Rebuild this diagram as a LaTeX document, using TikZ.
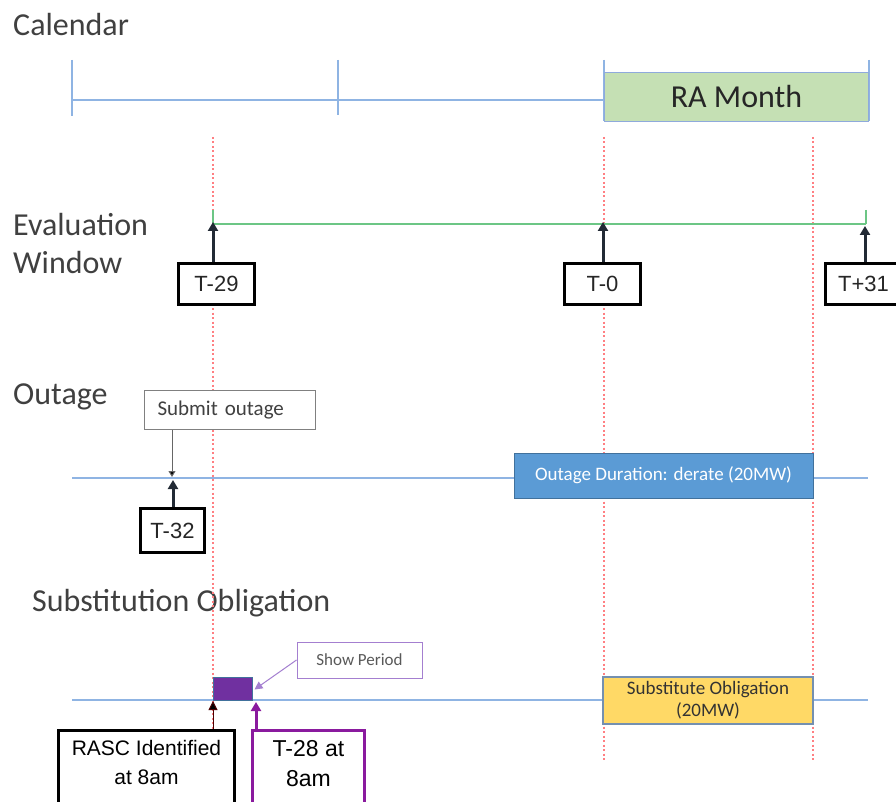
\documentclass[tikz,border=0pt]{standalone}
\usepackage{fontspec}
\setmainfont{Carlito}
\newfontfamily\arialf{Liberation Sans}
\usetikzlibrary{arrows.meta}
\definecolor{lineblue}{HTML}{8FB4E3}
\definecolor{evgreen}{HTML}{6CC685}
\definecolor{reddot}{HTML}{FF7F82}
\definecolor{navy}{HTML}{222A35}
\definecolor{ragreen}{HTML}{C5E0B4}
\definecolor{raborder}{HTML}{8FAADC}
\definecolor{outblue}{HTML}{5B9BD5}
\definecolor{outborder}{HTML}{41719C}
\definecolor{subyellow}{HTML}{FFD966}
\definecolor{subborder}{HTML}{7490B0}
\definecolor{showpurple}{HTML}{7030A0}
\definecolor{lightpurple}{HTML}{A47FD0}
\definecolor{tpurple}{HTML}{8A1A9E}
\definecolor{titlegray}{HTML}{404040}
\tikzset{
  title/.style={anchor=base west, inner sep=0pt, text=titlegray, font=\fontsize{32}{38}\selectfont},
  timeline/.style={draw=lineblue, line width=2pt},
  evline/.style={draw=evgreen, line width=2.2pt},
  guide/.style={draw=reddot, line width=1.4pt, dash pattern=on 2pt off 2.5pt},
  tbox/.style={draw=black, line width=3pt, fill=white, inner sep=0pt,
    font=\arialf\fontsize{22}{26}\selectfont, text=black!85},
  navyarrow/.style={draw=navy, line width=3pt, -{Triangle[width=10pt,length=9pt]}},
  bigbox/.style={draw=black, line width=3pt, fill=white, align=center, inner xsep=0pt, inner ysep=10pt, anchor=north},
}
\begin{document}
\begin{tikzpicture}[x=1pt,y=-1pt]
\useasboundingbox (0,0) rectangle (896,802);
\clip (0,0) rectangle (896,802);
\fill[white] (0,0) rectangle (896,802);

% titles
\node[title] (tcal) at (13,36) {Calendar};
\node[title, align=left, anchor=north west] (teval) at (13,213) {Evaluation\\Window};
\node[title] (tout) at (13,404) {Outage};
\node[title] (tsub) at (32,611) {Substitution Obligation};

% guide lines
\draw[guide] (213,137) coordinate (g1a) -- (213,802) coordinate (g1b);
\draw[guide] (604,137) coordinate (g2a) -- (604,760) coordinate (g2b);
\draw[guide] (813,137) coordinate (g3a) -- (813,760) coordinate (g3b);

% calendar
\coordinate (c0) at (72,100);
\coordinate (c1) at (604,100);
\draw[timeline] (c0) -- (c1);
\draw[timeline] (72,60) -- (72,116);
\draw[timeline] (338,60) -- (338,115);
\draw[timeline] (604,60) -- (604,121);
\draw[timeline] (869,60) -- (869,121);
\node[draw=raborder, line width=1.5pt, fill=ragreen, minimum width=264pt, minimum height=49pt, inner sep=0pt,
  font=\fontsize{32}{36}\selectfont, text=black!85] (ra) at (736.5,97) {RA Month};

% evaluation window
\coordinate (ev1) at (213,224);
\coordinate (ev2) at (603,224);
\coordinate (ev3) at (866,224);
\draw[evline] (ev1) -- (ev3);
\draw[evline] (213,210) -- (ev1);
\draw[evline] (866,210) -- (ev3);
\node[tbox, minimum width=76pt, minimum height=41pt] (t29) at (216.5,284) {T-29};
\node[tbox, minimum width=76pt, minimum height=41pt] (t0) at (602.5,284) {T-0};
\node[tbox, minimum width=76pt, minimum height=41pt] (t31) at (863.5,284) {T+31};
\draw[navyarrow] (t29.north -| ev1) -- ([yshift=2pt]ev1);
\draw[navyarrow] (t0.north -| ev2) -- ([yshift=2pt]ev2);
\coordinate (ev3b) at (865,226);
\draw[navyarrow] (t31.north -| ev3b) -- (ev3b);

% outage
\coordinate (o0) at (72,478);
\coordinate (o1) at (868,478);
\draw[timeline] (o0) -- (o1);
\node[draw=gray, line width=1pt, fill=white, text width=145pt, inner xsep=13pt, minimum height=39pt, align=left,
  font=\fontsize{21}{24}\selectfont, text=titlegray] (submit) at (230,410) {Submit outage};
\coordinate (osub) at (172,477);
\draw[draw=gray!80!black, line width=1pt, -{Triangle[width=7pt,length=6pt,fill=black]}] (submit.south -| osub) -- (osub);
\node[tbox, minimum width=64pt, minimum height=44pt] (t32) at (172.5,530.5) {T-32};
\coordinate (ot32) at (173,480);
\draw[navyarrow] (t32.north -| ot32) -- (ot32);
\node[draw=outborder, line width=1pt, fill=outblue, minimum width=299pt, minimum height=45pt, inner sep=0pt,
  font=\fontsize{19}{22}\selectfont, text=white] (odur) at (663.5,475.5) {Outage Duration: derate (20MW)};

% substitution obligation
\coordinate (s0) at (72,700);
\coordinate (s1) at (868,700);
\draw[timeline] (s0) -- (s1);
\node[draw=outborder, line width=1pt, fill=showpurple, minimum width=39pt, minimum height=23pt, inner sep=0pt] (pbox) at (232.5,688.5) {};
\node[draw=lightpurple, line width=1pt, fill=white, minimum width=125pt, minimum height=36pt, inner sep=0pt,
  font=\fontsize{17}{20}\selectfont, text=black!65] (show) at (359.5,660) {Show Period};
\draw[draw=lightpurple, line width=1pt, -{Triangle[width=8pt,length=8pt]}] (show.west) -- ([xshift=2pt,yshift=-1pt]pbox.east);
\node[draw=subborder, line width=1.5pt, fill=subyellow, minimum width=210pt, minimum height=47pt, inner sep=0pt, align=center,
  font=\fontsize{19}{22}\selectfont, text=black!80] (subob) at (708,700.5) {Substitute Obligation\\(20MW)};

\node[bigbox, minimum width=176pt, text depth=40pt, font=\arialf\fontsize{21}{29}\selectfont] (rasc) at (146.5,728.5) {RASC Identified\\at 8am};
\node[bigbox, draw=tpurple, minimum width=112pt, text depth=40pt, font=\arialf\fontsize{23}{30}\selectfont] (t28) at (308.5,728.5) {T-28 at\\8am};
\coordinate (sr) at (213,701);
\draw[draw=black!70!red, line width=1pt, -{Triangle[width=9pt,length=9pt,fill=black]}] (rasc.north -| sr) -- (sr);
\coordinate (st28) at (256,702);
\draw[draw=tpurple, line width=3pt, -{Triangle[width=10pt,length=9pt]}] (t28.north -| st28) -- (st28);
\end{tikzpicture}
\end{document}
